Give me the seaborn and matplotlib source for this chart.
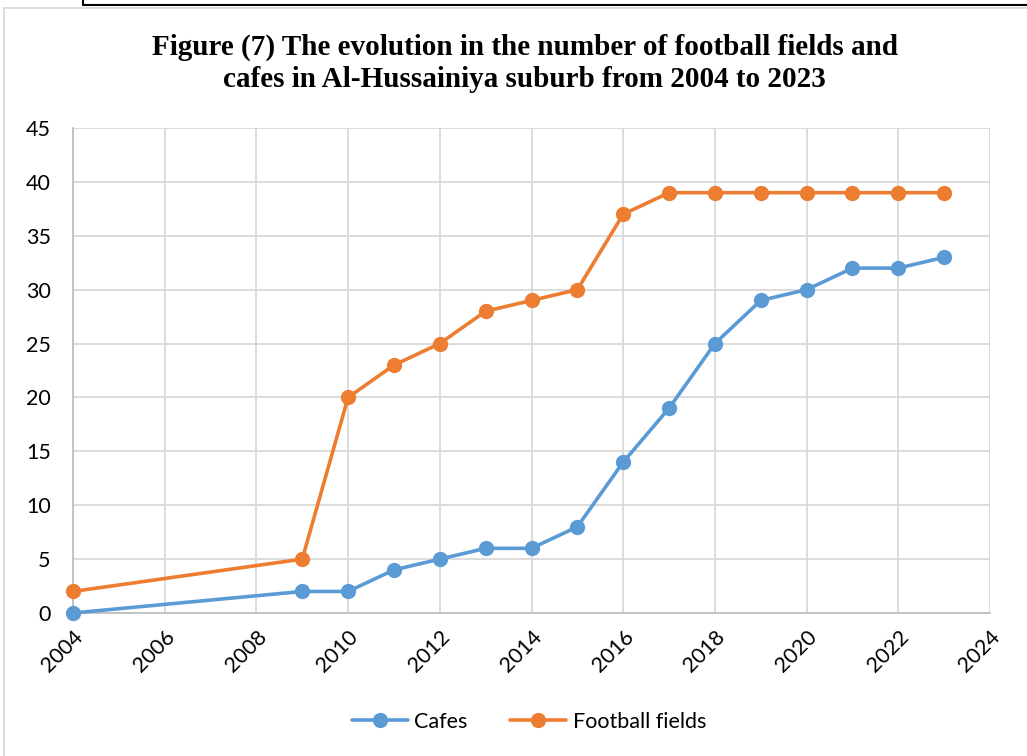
import matplotlib
matplotlib.use("Agg")
import matplotlib.pyplot as plt
import seaborn as sns
import pandas as pd
from matplotlib.lines import Line2D

years = [2004, 2009, 2010, 2011, 2012, 2013, 2014, 2015, 2016, 2017, 2018, 2019, 2020, 2021, 2022, 2023]
cafes = [0, 2, 2, 4, 5, 6, 6, 8, 14, 19, 25, 29, 30, 32, 32, 33]
football_fields = [2, 5, 20, 23, 25, 28, 29, 30, 37, 39, 39, 39, 39, 39, 39, 39]
series_names = ["Cafes", "Football fields"]
colors = ["#5B9BD5", "#ED7D31"]
title = "Figure (7) The evolution in the number of football fields and\ncafes in Al-Hussainiya suburb from 2004 to 2023"

df = pd.DataFrame({
    "year": years * 2,
    "value": cafes + football_fields,
    "series": [series_names[0]] * len(years) + [series_names[1]] * len(years),
})

sns.set_theme(style="white")
plt.rcParams["font.family"] = ["Lato", "DejaVu Sans"]
plt.rcParams["text.color"] = "black"

fig = plt.figure(figsize=(10.27, 7.56), dpi=100)
ax = fig.add_axes([73 / 1027, 1 - 613 / 756, (990 - 73) / 1027, (613 - 128) / 756])

sns.lineplot(data=df, x="year", y="value", hue="series", palette=colors,
             marker="o", markersize=11, markeredgewidth=0, linewidth=2.6,
             ax=ax, legend=False, clip_on=False, zorder=3)

ax.set_xlim(2004, 2024)
ax.set_ylim(0, 45)
ax.set_xticks(range(2004, 2025, 2))
ax.set_yticks(range(0, 46, 5))
ax.set_xlabel("")
ax.set_ylabel("")
ax.grid(True, color="#d9d9d9", linewidth=1.3)
ax.set_axisbelow(True)
for s in ["top", "right"]:
    ax.spines[s].set_visible(False)
for s in ["left", "bottom"]:
    ax.spines[s].set_color("#bfbfbf")
    ax.spines[s].set_linewidth(1.3)
ax.tick_params(axis="both", length=0, labelsize=15.5, colors="black")
ax.tick_params(axis="y", pad=16)
for lab in ax.get_xticklabels():
    lab.set_rotation(45)
    lab.set_ha("right")
    lab.set_va("top")
    lab.set_rotation_mode("anchor")
ax.tick_params(axis="x", pad=10)

fig.text(0.511, 1 - 63 / 756, title, ha="center", va="center", fontsize=21, color="black",
         fontweight="bold", family="Liberation Serif", linespacing=1.25)

handles = [Line2D([], [], color=c, marker="o", markersize=11, markeredgewidth=0, linewidth=2.6)
           for c in colors]
leg = fig.legend(handles, series_names, loc="center", bbox_to_anchor=(0.515, 1 - 722 / 756),
                 ncol=2, frameon=False, fontsize=15.5, handlelength=2.6, columnspacing=2.0,
                 handletextpad=0.3)
for t in leg.get_texts():
    t.set_color("black")

# outer borders
fig.add_artist(Line2D([4 / 1027, 4 / 1027], [0, 1 - 8 / 756], transform=fig.transFigure,
                      color="#d9d9d9", linewidth=1.3))
fig.add_artist(Line2D([4 / 1027, 1], [1 - 8 / 756, 1 - 8 / 756], transform=fig.transFigure,
                      color="#d9d9d9", linewidth=1.3))
fig.add_artist(Line2D([83 / 1027, 1], [1 - 5 / 756, 1 - 5 / 756], transform=fig.transFigure,
                      color="black", linewidth=1.5))
fig.add_artist(Line2D([83 / 1027, 83 / 1027], [1 - 5 / 756, 1], transform=fig.transFigure,
                      color="black", linewidth=1.5))

fig.savefig("out.png", dpi=100, facecolor="white")
